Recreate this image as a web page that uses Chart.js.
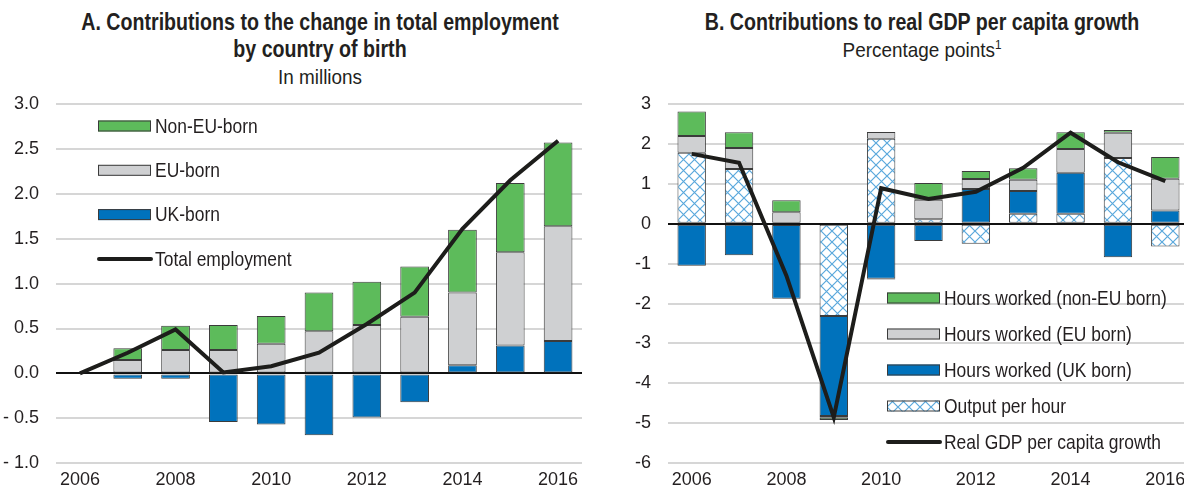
<!DOCTYPE html>
<html>
<head>
<meta charset="utf-8">
<script src="https://cdn.jsdelivr.net/npm/chart.js@4.4.1/dist/chart.umd.min.js"></script>
<style>
  html, body {
    margin: 0;
    padding: 0;
    background: #fff;
  }
  .page {
    position: relative;
    width: 1184px;
    height: 491px;
    overflow: hidden;
    font-family: 'Liberation Sans', Arial, sans-serif;
    color: #231f20;
  }
  .title {
    position: absolute;
    top: 9px;
    width: 600px;
    text-align: center;
  }
  .head {
    font-weight: bold;
    font-size: 23px;
    line-height: 27px;
    transform: scaleX(0.853);
  }
  .sub {
    font-size: 21px;
    line-height: 27px;
    transform: scaleX(0.9);
  }
  .sub sup {
    font-size: 13px;
    line-height: 0;
    vertical-align: 8px;
  }
  canvas {
    position: absolute;
    top: 0;
  }
</style>
</head>
<body>
<div class="page">
  <div class="title" style="left: 20px;">
    <div class="head">A. Contributions to the change in total employment</div>
    <div class="head">by country of birth</div>
    <div class="sub">In millions</div>
  </div>
  <div class="title" style="left: 622px;">
    <div class="head">B. Contributions to real GDP per capita growth</div>
    <div class="sub">Percentage points<sup>1</sup></div>
  </div>
  <canvas id="chartA" width="590" height="491" style="left: 0;"></canvas>
  <canvas id="chartB" width="610" height="491" style="left: 590px;"></canvas>
</div>
<script>
const years = ['2006', '2007', '2008', '2009', '2010', '2011', '2012', '2013', '2014', '2015', '2016'];

// Panel A, millions
const empUk = [null, -0.06, -0.06, -0.54, -0.57, -0.69, -0.49, -0.32, 0.09, 0.31, 0.36];
const empEu = [null, 0.15, 0.26, 0.26, 0.33, 0.47, 0.54, 0.63, 0.81, 1.04, 1.28];
const empNonEu = [null, 0.13, 0.27, 0.28, 0.31, 0.43, 0.48, 0.56, 0.70, 0.77, 0.93];
const empTotal = [0, 0.23, 0.49, 0.01, 0.08, 0.23, 0.55, 0.90, 1.61, 2.15, 2.59];

// Panel B, percentage points
const gdpOutput = [1.78, 1.37, -0.03, -2.31, 2.13, 0.11, -0.50, 0.25, 0.25, 1.65, -0.57];
const gdpUk = [-1.05, -0.79, -1.85, -2.51, -1.38, -0.43, 0.87, 0.57, 1.03, -0.84, 0.33];
const gdpEu = [0.42, 0.53, 0.29, -0.04, 0.17, 0.49, 0.25, 0.28, 0.59, 0.63, 0.80];
const gdpNonEu = [0.61, 0.39, 0.30, -0.06, -0.02, 0.42, 0.20, 0.29, 0.42, 0.07, 0.54];
const gdpTotal = [1.75, 1.53, -1.30, -4.85, 0.89, 0.62, 0.80, 1.40, 2.28, 1.54, 1.07];

const FONT = "'Liberation Sans', Arial, sans-serif";
const TEXT = '#231f20';
const GREEN = '#5dbb5b';
const GREY = '#cfd0d2';
const BLUE = '#0072bc';
const EDGE = '#3b3b3b';

function hatchPattern() {
  const size = 11;
  const c = document.createElement('canvas');
  c.width = size;
  c.height = size;
  const g = c.getContext('2d');
  g.fillStyle = '#fff';
  g.fillRect(0, 0, size, size);
  g.strokeStyle = '#5aa8dc';
  g.lineWidth = 1.2;
  g.beginPath();
  g.moveTo(-1, -1);
  g.lineTo(size + 1, size + 1);
  g.moveTo(size + 1, -1);
  g.lineTo(-1, size + 1);
  g.stroke();
  return g.createPattern(c, 'repeat');
}

const boxLegend = {
  id: 'boxLegend',
  afterDraw(chart, args, opts) {
    const ctx = chart.ctx;
    const sets = chart.data.datasets;
    const bars = sets.filter((d) => d.type !== 'line').reverse();
    const lines = sets.filter((d) => d.type === 'line');
    const items = bars.concat(lines);
    ctx.save();
    ctx.font = '21px ' + FONT;
    ctx.textBaseline = 'middle';
    ctx.textAlign = 'left';
    items.forEach((d, i) => {
      const y = opts.y + i * opts.step;
      if (d.type === 'line') {
        ctx.strokeStyle = d.borderColor;
        ctx.lineWidth = 4;
        ctx.lineCap = 'round';
        ctx.beginPath();
        ctx.moveTo(opts.x + 1, y);
        ctx.lineTo(opts.x + 53, y);
        ctx.stroke();
      } else {
        ctx.fillStyle = d.backgroundColor;
        ctx.fillRect(opts.x, y - 5.5, 53, 11);
        ctx.strokeStyle = EDGE;
        ctx.lineWidth = 1;
        ctx.strokeRect(opts.x + 0.5, y - 5, 52, 10);
      }
      ctx.save();
      ctx.translate(opts.x + 57, y + 1);
      ctx.scale(0.83, 1);
      ctx.fillStyle = TEXT;
      ctx.fillText(d.label, 0, 0);
      ctx.restore();
    });
    ctx.restore();
  },
};

function barSet(label, data, color) {
  return {
    type: 'bar',
    label,
    data,
    backgroundColor: color,
    borderColor: EDGE,
    borderWidth: 1,
    borderSkipped: false,
    barPercentage: 0.6,
    categoryPercentage: 1,
  };
}

function lineSet(label, data) {
  return {
    type: 'line',
    label,
    data,
    stack: 'line',
    borderColor: '#1d1d1b',
    borderWidth: 4,
    pointRadius: 0,
    tension: 0,
    fill: false,
  };
}

function buildOptions(cfg) {
  return {
    responsive: false,
    animation: false,
    layout: {
      padding: { top: 104, left: 0, right: cfg.right, bottom: 0 },
    },
    plugins: {
      legend: { display: false },
      tooltip: { enabled: false },
      boxLegend: cfg.legend,
    },
    scales: {
      x: {
        stacked: true,
        offset: true,
        grid: { display: false, drawTicks: false },
        border: { display: false },
        ticks: {
          autoSkip: false,
          maxRotation: 0,
          padding: 6,
          color: TEXT,
          font: { family: FONT, size: 18 },
          callback: (v, i) => (i % 2 === 0 ? years[i] : ''),
        },
        afterFit: (s) => { s.height = 27; },
      },
      y: {
        stacked: true,
        min: cfg.min,
        max: cfg.max,
        grid: {
          drawTicks: false,
          lineWidth: 2,
          color: (c) => (c.tick.value === 0 ? '#111' : '#d6d6d6'),
        },
        border: { display: false },
        ticks: {
          stepSize: cfg.step,
          padding: 17,
          color: TEXT,
          font: { family: FONT, size: 18 },
          callback: cfg.format,
        },
        afterFit: (s) => { s.width = cfg.axisWidth; },
      },
    },
  };
}

new Chart(document.getElementById('chartA'), {
  data: {
    labels: years,
    datasets: [
      lineSet('Total employment', empTotal),
      barSet('UK-born', empUk, BLUE),
      barSet('EU-born', empEu, GREY),
      barSet('Non-EU-born', empNonEu, GREEN),
    ],
  },
  options: buildOptions({
    right: 8,
    axisWidth: 56,
    min: -1,
    max: 3,
    step: 0.5,
    format: (v) => (v < 0 ? '- ' + Math.abs(v).toFixed(1) : v.toFixed(1)),
    legend: { x: 98, y: 126, step: 44.3 },
  }),
  plugins: [boxLegend],
});

new Chart(document.getElementById('chartB'), {
  data: {
    labels: years,
    datasets: [
      lineSet('Real GDP per capita growth', gdpTotal),
      barSet('Output per hour', gdpOutput, hatchPattern()),
      barSet('Hours worked (UK born)', gdpUk, BLUE),
      barSet('Hours worked (EU born)', gdpEu, GREY),
      barSet('Hours worked (non-EU born)', gdpNonEu, GREEN),
    ],
  },
  options: buildOptions({
    right: 11,
    axisWidth: 78,
    min: -6,
    max: 3,
    step: 1,
    format: (v) => String(v),
    legend: { x: 297, y: 298, step: 36 },
  }),
  plugins: [boxLegend],
});
</script>
</body>
</html>
